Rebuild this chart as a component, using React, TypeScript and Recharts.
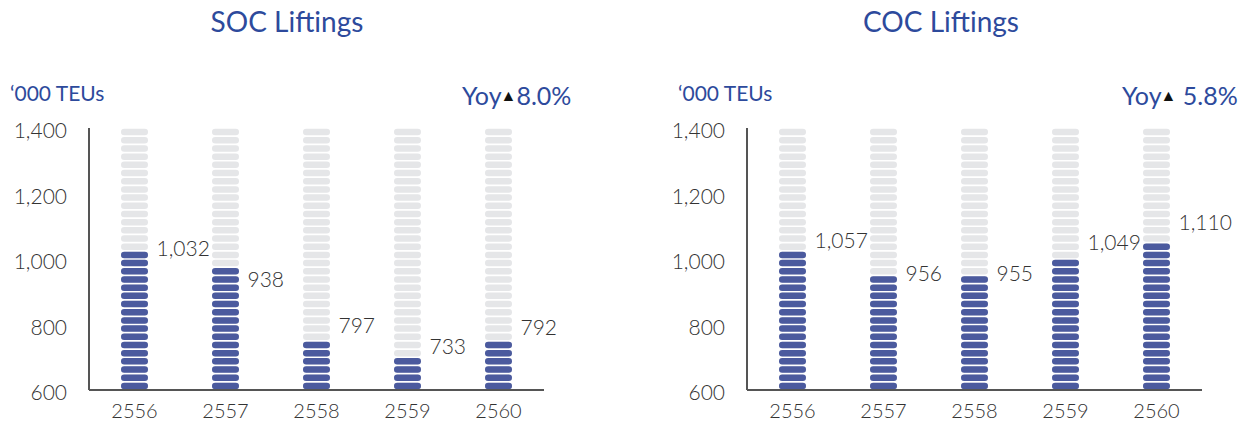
import React from 'react';
import { BarChart, Bar, Line, XAxis, YAxis, LabelList } from 'recharts';

const years = ['2556', '2557', '2558', '2559', '2560'];
// filled (blue) levels as drawn, and the printed values
const socFilled = [1025, 975, 750, 700, 750];
const socValues = [1032, 938, 797, 733, 792];
const cocFilled = [1025, 950, 950, 1000, 1050];
const cocValues = [1057, 956, 955, 1049, 1110];
const yTicks = [600, 800, 1000, 1200, 1400];

const Y_MIN = 600;
const Y_MAX = 1400;
const PILL_STEP = 25;

const BLUE = '#4b5a9e';
const GREY = '#e5e6e8';
const TITLE_BLUE = '#2d4a9c';
const FONT = 'Lato, "Open Sans", sans-serif';

function pills(x: number, y: number, width: number, height: number, count: number, fill: string) {
  const pitch = height / count;
  const h = pitch * 0.8;
  return Array.from({ length: count }, (_, i) => (
    <rect
      key={i}
      x={x}
      y={y + height - (i + 1) * pitch + (pitch - h) / 2}
      width={width}
      height={h}
      rx={h / 2}
      ry={h / 2}
      fill={fill}
    />
  ));
}

const FilledPills = (props: any) => {
  const { x, y, width, height, payload } = props;
  const n = Math.round((payload.filled - Y_MIN) / PILL_STEP);
  if (!n) return <g />;
  return <g>{pills(x, y, width, height, n, BLUE)}</g>;
};

const EmptyPills = (props: any) => {
  const { x, y, width, height } = props;
  const n = Math.round((Y_MAX - Y_MIN) / PILL_STEP);
  return <g>{pills(x, y, width, height, n, GREY)}</g>;
};

const fmt = (v: number) => Number(v).toLocaleString('en-US');

function Panel({ filled, values, width }: { filled: number[]; values: number[]; width: number }) {
  const data = years.map((year, i) => ({ year, filled: filled[i], value: values[i] }));
  return (
    <BarChart
      width={width}
      height={425}
      data={data}
      margin={{ top: 128, right: width - 89 - 455, bottom: 0, left: 9 }}
    >
      <XAxis
        dataKey="year"
        tickLine={false}
        tickSize={0}
        tickMargin={14}
        axisLine={{ stroke: '#555', strokeWidth: 2 }}
        tick={{ fontSize: 20, fill: '#333', fontFamily: FONT, fontWeight: 300 }}
        height={35}
      />
      <YAxis
        type="number"
        domain={[Y_MIN, Y_MAX]}
        ticks={yTicks}
        allowDataOverflow
        tickFormatter={fmt}
        tickLine={false}
        tickSize={0}
        tickMargin={22}
        width={80}
        axisLine={{ stroke: '#555', strokeWidth: 2 }}
        tick={{ fontSize: 21, fill: '#333', fontFamily: FONT, fontWeight: 300, dy: 3 }}
      />
      <Bar
        dataKey="filled"
        barSize={27}
        background={EmptyPills}
        shape={FilledPills}
        isAnimationActive={false}
      />
      <Line dataKey="value" stroke="none" dot={false} activeDot={false} isAnimationActive={false}>
        <LabelList
          dataKey="value"
          position="right"
          offset={22}
          formatter={fmt}
          style={{ fontSize: 21, fill: '#333', fontFamily: FONT, fontWeight: 300 }}
        />
      </Line>
    </BarChart>
  );
}

const titleStyle: React.CSSProperties = {
  position: 'absolute',
  color: TITLE_BLUE,
  fontFamily: FONT,
  fontSize: 28,
  top: 4,
  width: 300,
  textAlign: 'center',
};

const unitStyle: React.CSSProperties = {
  position: 'absolute',
  color: TITLE_BLUE,
  fontFamily: FONT,
  fontSize: 21,
  top: 80,
};

const yoyStyle: React.CSSProperties = {
  position: 'absolute',
  color: TITLE_BLUE,
  fontFamily: FONT,
  fontSize: 25,
  top: 80,
  whiteSpace: 'nowrap',
};

const Tri = () => (
  <span style={{ color: '#111', fontSize: 16, margin: '0 0 0 -1px', verticalAlign: 4 }}>▲</span>
);

export default function App() {
  return (
    <div style={{ position: 'relative', width: 1245, height: 425, background: '#fff', overflow: 'hidden' }}>
      <style>{'body{margin:0}'}</style>
      <div style={{ position: 'absolute', left: 0, top: 0 }}>
        <Panel filled={socFilled} values={socValues} width={600} />
      </div>
      <div style={{ position: 'absolute', left: 658, top: 0 }}>
        <Panel filled={cocFilled} values={cocValues} width={587} />
      </div>
      <div style={{ ...titleStyle, left: 137 }}>SOC Liftings</div>
      <div style={{ ...titleStyle, left: 791 }}>COC Liftings</div>
      <div style={{ ...unitStyle, left: 10 }}>‘000 TEUs</div>
      <div style={{ ...unitStyle, left: 678 }}>‘000 TEUs</div>
      <div style={{ ...yoyStyle, left: 462 }}>
        Yoy<Tri />8.0%
      </div>
      <div style={{ ...yoyStyle, left: 1122 }}>
        Yoy<Tri /> 5.8%
      </div>
    </div>
  );
}
